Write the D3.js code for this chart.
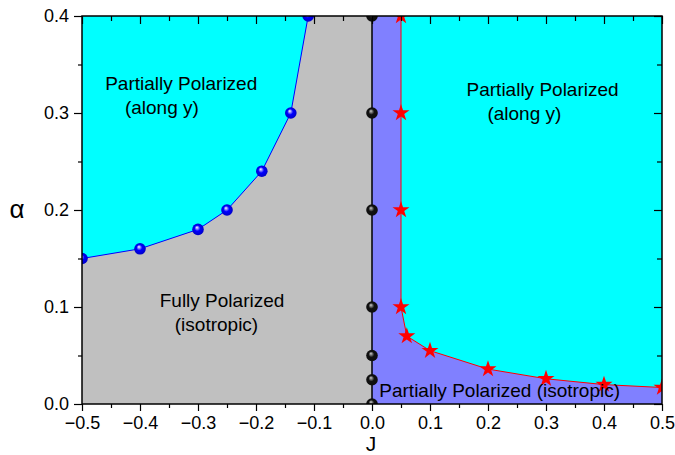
<!DOCTYPE html>
<html>
<head>
<meta charset="utf-8">
<script src="https://cdn.jsdelivr.net/npm/d3@7"></script>
<style>
  body { margin: 0; background: #fff; }
  text { font-family: Arial, "Liberation Sans", sans-serif; }
</style>
</head>
<body>
<div id="chart"></div>
<script>
// boundary between "along y" and fully polarized (J < 0)
const blueJ = [-0.5, -0.4, -0.3, -0.25, -0.19, -0.14, -0.11];
const blueA = [0.15, 0.16, 0.18, 0.2, 0.24, 0.3, 0.4];
// points on J = 0
const blackA = [0, 0.025, 0.05, 0.1, 0.2, 0.3, 0.4];
// boundary on the J > 0 side
const redJ = [0.05, 0.05, 0.05, 0.05, 0.06, 0.1, 0.2, 0.3, 0.4, 0.5];
const redA = [0.4, 0.3, 0.2, 0.1, 0.07, 0.055, 0.036, 0.026, 0.02, 0.017];
const xTicks = [-0.5, -0.4, -0.3, -0.2, -0.1, 0.0, 0.1, 0.2, 0.3, 0.4, 0.5];
const yTicks = [0.0, 0.1, 0.2, 0.3, 0.4];

const W = 675, H = 455;
const margin = { top: 16, right: 13, bottom: 51, left: 82 };
const width = W - margin.left - margin.right;
const height = H - margin.top - margin.bottom;

const svg = d3.select("#chart").append("svg")
  .attr("width", W).attr("height", H);

const defs = svg.append("defs");
defs.append("clipPath").attr("id", "plotClip")
  .append("rect").attr("width", width).attr("height", height);

function ball(id, base, hi) {
  const grad = defs.append("radialGradient").attr("id", id)
    .attr("cx", "50%").attr("cy", "50%").attr("r", "55%")
    .attr("fx", "40%").attr("fy", "32%");
  grad.append("stop").attr("offset", "0%").attr("stop-color", hi);
  grad.append("stop").attr("offset", "45%").attr("stop-color", base);
  grad.append("stop").attr("offset", "100%").attr("stop-color", d3.color(base).darker(0.8));
}
ball("blueBall", "#0000ff", "#ffffff");
ball("blackBall", "#111111", "#d0d0d0");

const x = d3.scaleLinear().domain([-0.5, 0.5]).range([0, width]);
const y = d3.scaleLinear().domain([0, 0.4]).range([height, 0]);

const g = svg.append("g").attr("transform", `translate(${margin.left},${margin.top})`);
const plot = g.append("g").attr("clip-path", "url(#plotClip)");

const blue = blueJ.map((j, i) => [j, blueA[i]]);
const red = redJ.map((j, i) => [j, redA[i]]);
const line = d3.line().x(d => x(d[0])).y(d => y(d[1]));

// background (partially polarized along y)
plot.append("rect").attr("width", width).attr("height", height).attr("fill", "#00ffff");

// fully polarized region
const grayPoly = blue.concat([[0, 0.4], [0, 0], [-0.5, 0]]);
plot.append("path").attr("d", line(grayPoly) + "Z").attr("fill", "#c0c0c0");

// partially polarized isotropic region
const purplePoly = [[0, 0], [0, 0.4]].concat(red).concat([[0.5, 0]]);
plot.append("path").attr("d", line(purplePoly) + "Z").attr("fill", "#8080ff");

// lines
plot.append("path").attr("d", line(blue)).attr("fill", "none")
  .attr("stroke", "#0000ff").attr("stroke-width", 1);
plot.append("line").attr("x1", x(0)).attr("x2", x(0)).attr("y1", y(0)).attr("y2", y(0.4))
  .attr("stroke", "#000").attr("stroke-width", 1.5);
plot.append("path").attr("d", line(red)).attr("fill", "none")
  .attr("stroke", "#ff0000").attr("stroke-width", 1);

// markers
plot.selectAll(".bb").data(blue).enter().append("circle")
  .attr("cx", d => x(d[0])).attr("cy", d => y(d[1])).attr("r", 5.8)
  .attr("fill", "url(#blueBall)");
plot.selectAll(".kb").data(blackA).enter().append("circle")
  .attr("cx", x(0)).attr("cy", d => y(d)).attr("r", 5.8)
  .attr("fill", "url(#blackBall)");
plot.selectAll(".st").data(red).enter().append("path")
  .attr("d", d3.symbol().type(d3.symbolStar).size(90))
  .attr("transform", d => `translate(${x(d[0])},${y(d[1])})`)
  .attr("fill", "#ff0000");

// region labels (left-aligned, positioned in data coordinates)
const labels = [
  { t: "Partially Polarized", j: -0.46, a: 0.3237 },
  { t: "(along y)", j: -0.426, a: 0.299 },
  { t: "Partially Polarized", j: 0.163, a: 0.318 },
  { t: "(along y)", j: 0.199, a: 0.2925 },
  { t: "Fully Polarized", j: -0.366, a: 0.1003 },
  { t: "(isotropic)", j: -0.34, a: 0.0756 },
  { t: "Partially Polarized (isotropic)", j: 0.0126, a: 0.0075 }
];
g.selectAll(".lbl").data(labels).enter().append("text")
  .attr("x", d => x(d.j)).attr("y", d => y(d.a))
  .attr("text-anchor", "start").attr("font-size", 19).attr("fill", "#000")
  .text(d => d.t);

// axes
const minorX = d3.range(-0.45, 0.5, 0.1);
const minorY = d3.range(0.05, 0.4, 0.1);

const bottomAxis = g.append("g").attr("transform", `translate(0,${height})`)
  .call(d3.axisBottom(x).tickValues(xTicks).tickSize(7).tickPadding(5)
    .tickFormat(d3.format(".1f")));
bottomAxis.call(a => a.select(".domain").remove());
bottomAxis.append("g").call(d3.axisBottom(x).tickValues(minorX).tickSize(4).tickFormat(""))
  .call(a => a.select(".domain").remove());

const leftAxis = g.append("g")
  .call(d3.axisLeft(y).tickValues(yTicks).tickSize(8).tickPadding(5)
    .tickFormat(d3.format(".1f")));
leftAxis.call(a => a.select(".domain").remove());
leftAxis.append("g").call(d3.axisLeft(y).tickValues(minorY).tickSize(4).tickFormat(""))
  .call(a => a.select(".domain").remove());

const topAxis = g.append("g")
  .call(d3.axisTop(x).tickValues(xTicks).tickSize(-8).tickFormat(""));
topAxis.append("g").call(d3.axisTop(x).tickValues(minorX).tickSize(-5).tickFormat(""));
topAxis.selectAll(".domain").remove();

const rightAxis = g.append("g").attr("transform", `translate(${width},0)`)
  .call(d3.axisRight(y).tickValues(yTicks).tickSize(-8).tickFormat(""));
rightAxis.append("g").call(d3.axisRight(y).tickValues(minorY).tickSize(-5).tickFormat(""));
rightAxis.selectAll(".domain").remove();

g.selectAll(".tick text").attr("font-size", 18).attr("fill", "#000")
  .attr("font-family", "Arial, 'Liberation Sans', sans-serif");
g.selectAll(".tick line").attr("stroke", "#000").attr("stroke-width", 1.2);

// frame
g.append("rect").attr("width", width).attr("height", height)
  .attr("fill", "none").attr("stroke", "#000").attr("stroke-width", 1.5);

// axis titles
svg.append("text").attr("x", 371).attr("y", 451).attr("text-anchor", "middle")
  .attr("font-size", 21).text("J");
svg.append("text").attr("x", 17).attr("y", 218).attr("text-anchor", "middle")
  .attr("font-size", 26).text("α");
</script>
</body>
</html>
